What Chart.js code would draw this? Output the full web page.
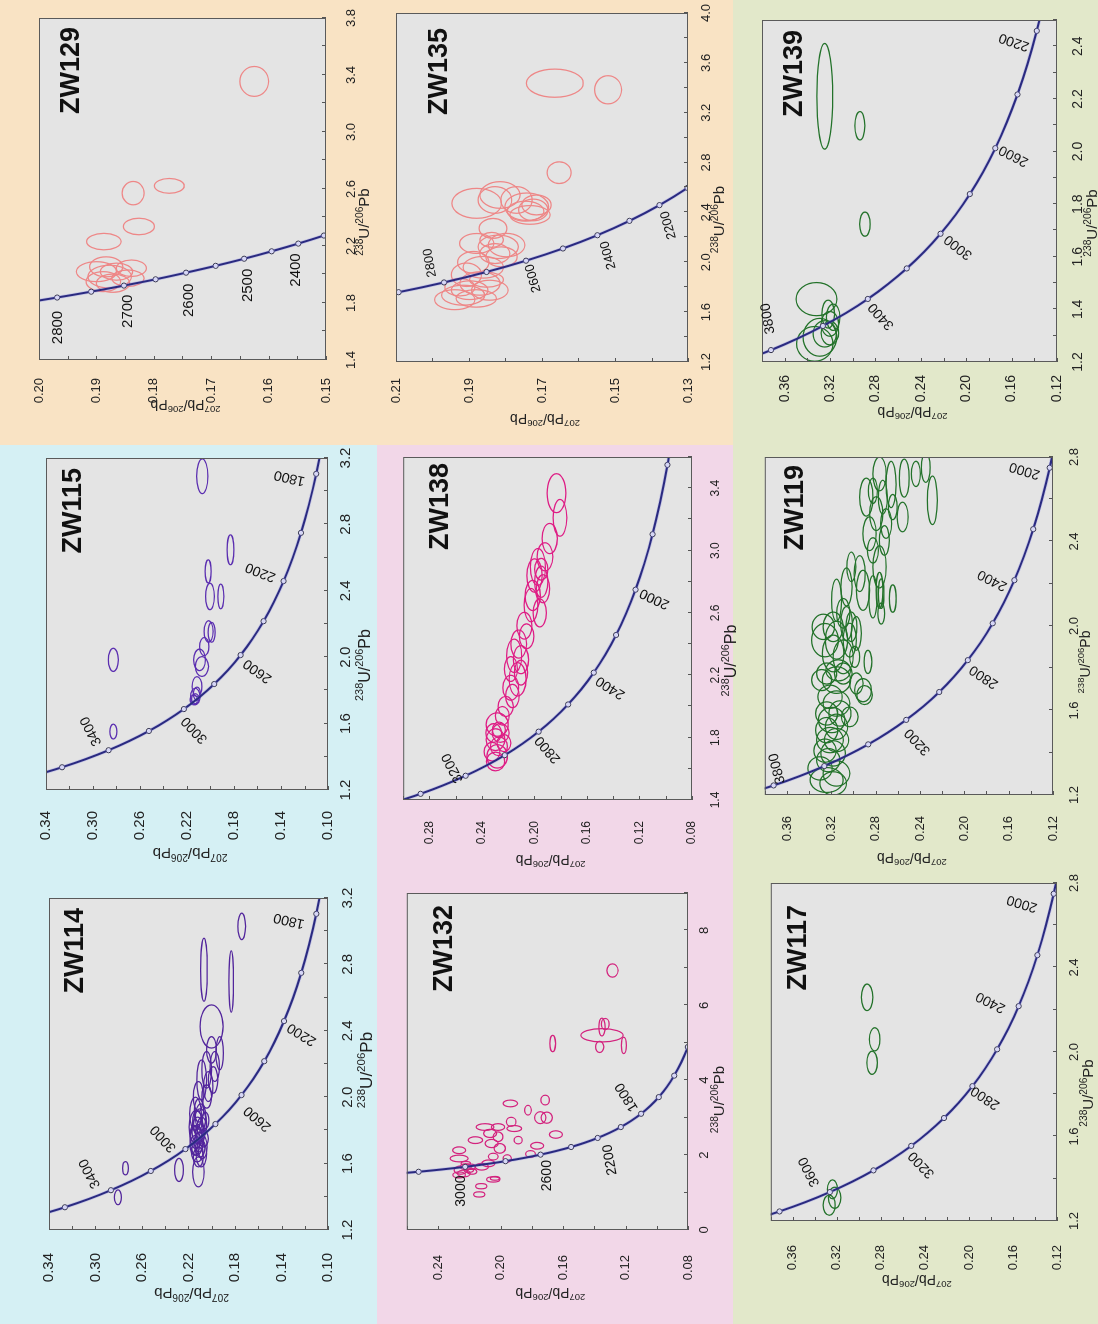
<!DOCTYPE html>
<html>
<head>
<meta charset="utf-8">
<script src="https://cdn.jsdelivr.net/npm/chart.js@4.4.1/dist/chart.umd.min.js"></script>
<style>
  html, body { margin: 0; padding: 0; background: #fff; overflow: hidden; }
  #fig { position: absolute; left: 0; top: 0; width: 1324px; height: 1098px;
         transform-origin: 0 0; transform: translate(0, 1324px) rotate(-90deg); }
  .bg { position: absolute; }
  canvas { position: absolute; }
</style>
</head>
<body>
<div id="fig">
  <div class="bg" style="left:879px;top:0;width:445px;height:733px;background:#f9e3c4"></div>
  <div class="bg" style="left:0;top:0;width:879px;height:377px;background:#d5f0f4"></div>
  <div class="bg" style="left:0;top:377px;width:879px;height:356px;background:#f2d7e8"></div>
  <div class="bg" style="left:0;top:733px;width:1324px;height:365px;background:#e2e8ca"></div>
</div>
<script>
// concordia (Tera-Wasserburg): age in Ma, 238U/206Pb, 207Pb/206Pb
const concAge = [1100, 1200, 1300, 1400, 1500, 1600, 1700, 1800, 1900, 2000, 2100, 2200, 2300, 2350, 2400, 2450, 2500, 2550, 2600, 2650, 2700, 2750, 2800, 2850, 2900, 3000, 3100, 3200, 3300, 3400, 3500, 3600, 3700, 3800, 3900];
const concX = [5.3746, 4.8876, 4.4757, 4.1227, 3.8169, 3.5496, 3.3140, 3.1046, 2.9173, 2.7491, 2.5968, 2.4586, 2.3325, 2.2735, 2.2170, 2.1628, 2.1108, 2.0609, 2.0129, 1.9663, 1.9224, 1.8796, 1.8384, 1.7986, 1.7602, 1.6875, 1.6194, 1.5557, 1.4959, 1.4397, 1.3868, 1.3370, 1.2898, 1.2453, 1.2030];
const concY = [0.07619, 0.08012, 0.08432, 0.08881, 0.09360, 0.09871, 0.10420, 0.11003, 0.11630, 0.12300, 0.13015, 0.13782, 0.14604, 0.15036, 0.15483, 0.15947, 0.16426, 0.16922, 0.17438, 0.17969, 0.18520, 0.19091, 0.19684, 0.20294, 0.20928, 0.22265, 0.23701, 0.25242, 0.26896, 0.28673, 0.30583, 0.32633, 0.34840, 0.37207, 0.39759];

// ---- ZW114
const zw114XRange = [1.2, 3.2];
const zw114YRange = [0.10, 0.34];
const zw114XTicks = [1.2, 1.6, 2.0, 2.4, 2.8, 3.2];
const zw114YTicks = [0.10, 0.14, 0.18, 0.22, 0.26, 0.30, 0.34];
const zw114Curve = [1700, 3700, 100];
const zw114Dots = [1800, 2000, 2200, 2400, 2600, 2800, 3000, 3200, 3400, 3600];
const zw114Ages = [3400, 3000, 2600, 2200, 1800];
// spots: 238U/206Pb, 207Pb/206Pb, error x, error y
const zw114Spots = [
  [3.029, 0.1742, 0.08, 0.0033], [2.768, 0.2067, 0.19, 0.0028], [2.697, 0.1833, 0.185, 0.0020],
  [2.426, 0.2002, 0.13, 0.0099], [2.265, 0.1932, 0.10, 0.0032], [2.285, 0.2002, 0.08, 0.0042],
  [2.185, 0.1974, 0.09, 0.0040], [2.165, 0.2044, 0.11, 0.0042], [2.104, 0.1988, 0.08, 0.0040],
  [2.064, 0.2030, 0.09, 0.0040], [2.104, 0.2087, 0.12, 0.0042], [2.004, 0.2115, 0.09, 0.0042],
  [2.004, 0.2044, 0.07, 0.0042], [1.920, 0.2110, 0.07, 0.0040], [1.880, 0.2095, 0.08, 0.0045],
  [1.850, 0.2125, 0.07, 0.0040], [1.820, 0.2085, 0.06, 0.0040], [1.800, 0.2120, 0.08, 0.0050],
  [1.780, 0.2100, 0.06, 0.0040], [1.760, 0.2135, 0.07, 0.0050], [1.750, 0.2070, 0.05, 0.0040],
  [1.730, 0.2110, 0.06, 0.0040], [1.710, 0.2145, 0.06, 0.0040], [1.690, 0.2100, 0.05, 0.0040],
  [1.670, 0.2125, 0.06, 0.0050], [1.860, 0.2055, 0.05, 0.0030], [1.780, 0.2155, 0.05, 0.0030],
  [1.640, 0.2115, 0.06, 0.0042], [1.820, 0.2135, 0.10, 0.0060], [1.900, 0.2140, 0.10, 0.0050],
  [1.700, 0.2080, 0.07, 0.0040], [1.550, 0.2115, 0.09, 0.0050], [1.562, 0.2282, 0.07, 0.0038],
  [1.572, 0.2742, 0.04, 0.0024], [1.397, 0.2807, 0.045, 0.0030], [1.740, 0.2130, 0.09, 0.0055],
  [1.840, 0.2100, 0.09, 0.0055], [1.660, 0.2090, 0.08, 0.0045]
];

// ---- ZW115
const zw115XRange = [1.2, 3.2];
const zw115YRange = [0.10, 0.34];
const zw115XTicks = [1.2, 1.6, 2.0, 2.4, 2.8, 3.2];
const zw115YTicks = [0.10, 0.14, 0.18, 0.22, 0.26, 0.30, 0.34];
const zw115Curve = [1700, 3700, 100];
const zw115Dots = [1800, 2000, 2200, 2400, 2600, 2800, 3000, 3200, 3400, 3600];
const zw115Ages = [3400, 3000, 2600, 2200, 1800];
const zw115Spots = [
  [3.090, 0.2070, 0.105, 0.0048], [2.647, 0.1830, 0.09, 0.0028], [2.517, 0.2020, 0.07, 0.0025],
  [2.366, 0.1912, 0.075, 0.0025], [2.366, 0.2005, 0.08, 0.0037], [2.155, 0.2016, 0.065, 0.0038],
  [2.150, 0.1990, 0.06, 0.0030], [2.064, 0.2053, 0.055, 0.0040], [1.984, 0.2093, 0.065, 0.0050],
  [1.944, 0.2073, 0.06, 0.0056], [1.823, 0.2115, 0.06, 0.0042], [1.763, 0.2129, 0.05, 0.0040],
  [1.780, 0.2115, 0.04, 0.0030], [1.750, 0.2130, 0.03, 0.0030], [1.743, 0.2143, 0.03, 0.0030],
  [1.984, 0.2827, 0.07, 0.0042], [1.552, 0.2827, 0.045, 0.0030]
];

// ---- ZW129
const zw129XRange = [1.4, 3.8];
const zw129YRange = [0.15, 0.20];
const zw129XTicks = [1.4, 1.8, 2.2, 2.6, 3.0, 3.4, 3.8];
const zw129YTicks = [0.15, 0.16, 0.17, 0.18, 0.19, 0.20];
const zw129Curve = [2300, 2850, 50];
const zw129Dots = [2350, 2400, 2450, 2500, 2550, 2600, 2650, 2700, 2750, 2800];
const zw129Ages = [2800, 2700, 2600, 2500, 2400];
const zw129Spots = [
  [3.355, 0.1625, 0.105, 0.0025], [2.571, 0.1836, 0.082, 0.0019], [2.622, 0.1773, 0.052, 0.0026],
  [2.337, 0.1826, 0.058, 0.0027], [2.231, 0.1887, 0.058, 0.0030], [2.020, 0.1900, 0.070, 0.0035],
  [1.985, 0.1877, 0.080, 0.0038], [2.044, 0.1839, 0.058, 0.0026], [1.974, 0.1845, 0.058, 0.0028],
  [2.054, 0.1883, 0.070, 0.0029], [1.939, 0.1871, 0.064, 0.0029], [1.950, 0.1888, 0.070, 0.0030],
  [2.020, 0.1865, 0.060, 0.0028]
];

// ---- ZW132
const zw132XRange = [0, 9];
const zw132YRange = [0.08, 0.26];
const zw132XTicks = [0, 2, 4, 6, 8];
const zw132YTicks = [0.08, 0.12, 0.16, 0.20, 0.24];
const zw132Curve = [1100, 3300, 100];
const zw132Dots = [1200, 1400, 1600, 1800, 2000, 2200, 2400, 2600, 2800, 3000, 3200];
const zw132Ages = [3000, 2600, 2200, 1800];
const zw132Spots = [
  [6.93, 0.1284, 0.178, 0.0036], [5.20, 0.1351, 0.178, 0.0135], [5.42, 0.1351, 0.24, 0.0020],
  [4.89, 0.1365, 0.15, 0.0026], [4.93, 0.1211, 0.22, 0.0016], [5.50, 0.1330, 0.15, 0.0025],
  [4.98, 0.1666, 0.22, 0.0018], [3.38, 0.1937, 0.09, 0.0046], [3.20, 0.1824, 0.13, 0.0021],
  [3.47, 0.1714, 0.13, 0.0027], [3.00, 0.1745, 0.16, 0.0036], [3.00, 0.1704, 0.15, 0.0036],
  [2.89, 0.1932, 0.12, 0.0031], [2.71, 0.1912, 0.08, 0.0047], [2.40, 0.1887, 0.10, 0.0026],
  [2.55, 0.1646, 0.10, 0.0042], [2.25, 0.1766, 0.09, 0.0042], [2.03, 0.1808, 0.09, 0.0031],
  [1.91, 0.1957, 0.10, 0.0026], [2.49, 0.2016, 0.13, 0.0031], [2.18, 0.2005, 0.13, 0.0036],
  [2.31, 0.2057, 0.11, 0.0042], [2.58, 0.2067, 0.11, 0.0042], [2.75, 0.2099, 0.09, 0.0057],
  [2.75, 0.2016, 0.09, 0.0042], [2.40, 0.2161, 0.09, 0.0047], [2.13, 0.2265, 0.09, 0.0042],
  [1.91, 0.2265, 0.09, 0.0057], [1.96, 0.2047, 0.09, 0.0031], [1.78, 0.2078, 0.09, 0.0042],
  [1.69, 0.2120, 0.09, 0.0042], [1.69, 0.2192, 0.07, 0.0031], [1.56, 0.2182, 0.07, 0.0030],
  [1.60, 0.2255, 0.11, 0.0042], [1.51, 0.2234, 0.09, 0.0040], [1.47, 0.2265, 0.08, 0.0040],
  [1.69, 0.2223, 0.08, 0.0036], [1.60, 0.2203, 0.06, 0.0030], [1.35, 0.2047, 0.07, 0.0042],
  [1.38, 0.2035, 0.05, 0.0030], [1.17, 0.2124, 0.07, 0.0036], [0.95, 0.2137, 0.07, 0.0036],
  [1.78, 0.2223, 0.05, 0.0030]
];

// ---- ZW138
const zw138XRange = [1.4, 3.6];
const zw138YRange = [0.08, 0.30];
const zw138XTicks = [1.4, 1.8, 2.2, 2.6, 3.0, 3.4];
const zw138YTicks = [0.08, 0.12, 0.16, 0.20, 0.24, 0.28];
const zw138Curve = [1500, 3500, 100];
const zw138Dots = [1600, 1800, 2000, 2200, 2400, 2600, 2800, 3000, 3200, 3400];
const zw138Ages = [3200, 2800, 2400, 2000];
const zw138Spots = [
  [3.368, 0.1832, 0.125, 0.0071], [3.210, 0.1806, 0.118, 0.0052], [3.077, 0.1884, 0.097, 0.0058],
  [2.895, 0.1974, 0.118, 0.0058], [2.840, 0.2000, 0.107, 0.0058], [2.800, 0.1948, 0.100, 0.0050],
  [2.712, 0.2013, 0.097, 0.0058], [2.755, 0.1935, 0.090, 0.0050], [2.650, 0.2026, 0.107, 0.0052],
  [2.600, 0.1960, 0.090, 0.0050], [2.880, 0.1948, 0.070, 0.0050], [2.518, 0.2077, 0.086, 0.0058],
  [2.325, 0.2155, 0.107, 0.0058], [2.300, 0.2103, 0.090, 0.0058], [2.240, 0.2180, 0.080, 0.0050],
  [2.174, 0.2129, 0.107, 0.0065], [2.120, 0.2180, 0.080, 0.0060], [2.217, 0.2103, 0.080, 0.0050],
  [2.067, 0.2168, 0.075, 0.0052], [2.000, 0.2219, 0.065, 0.0058], [1.940, 0.2245, 0.060, 0.0052],
  [1.884, 0.2284, 0.075, 0.0084], [1.830, 0.2258, 0.060, 0.0065], [1.787, 0.2297, 0.070, 0.0071],
  [1.744, 0.2271, 0.060, 0.0065], [1.710, 0.2323, 0.060, 0.0060], [1.680, 0.2284, 0.075, 0.0078],
  [1.647, 0.2297, 0.060, 0.0070], [1.850, 0.2271, 0.050, 0.0050], [1.765, 0.2232, 0.055, 0.0052],
  [1.830, 0.2310, 0.060, 0.0060], [2.400, 0.2120, 0.090, 0.0060], [2.960, 0.1920, 0.090, 0.0060],
  [2.450, 0.2060, 0.080, 0.0055]
];

// ---- ZW135
const zw135XRange = [1.2, 4.0];
const zw135YRange = [0.13, 0.21];
const zw135XTicks = [1.2, 1.6, 2.0, 2.4, 2.8, 3.2, 3.6, 4.0];
const zw135YTicks = [0.13, 0.15, 0.17, 0.19, 0.21];
const zw135Curve = [2000, 3000, 100];
const zw135Dots = [2100, 2200, 2300, 2400, 2500, 2600, 2700, 2800, 2900];
const zw135Ages = [2800, 2600, 2400, 2200];
const zw135Spots = [
  [3.437, 0.1665, 0.113, 0.0078], [3.384, 0.1519, 0.113, 0.0037], [2.719, 0.1653, 0.087, 0.0033],
  [2.540, 0.1815, 0.107, 0.0055], [2.500, 0.1770, 0.107, 0.0043], [2.446, 0.1742, 0.110, 0.0060],
  [2.420, 0.1724, 0.087, 0.0040], [2.380, 0.1733, 0.075, 0.0055], [2.460, 0.1715, 0.080, 0.0040],
  [2.473, 0.1879, 0.120, 0.0068], [2.500, 0.1829, 0.107, 0.0046], [2.410, 0.1745, 0.080, 0.0050],
  [2.272, 0.1834, 0.080, 0.0038], [2.151, 0.1879, 0.080, 0.0047], [2.124, 0.1820, 0.094, 0.0055],
  [2.138, 0.1797, 0.094, 0.0050], [2.070, 0.1829, 0.080, 0.0041], [2.180, 0.1838, 0.060, 0.0032],
  [2.044, 0.1811, 0.080, 0.0043], [2.000, 0.1888, 0.087, 0.0043], [1.960, 0.1861, 0.087, 0.0055],
  [1.900, 0.1907, 0.094, 0.0041], [1.830, 0.1870, 0.094, 0.0055], [1.776, 0.1843, 0.080, 0.0050],
  [1.736, 0.1916, 0.080, 0.0059], [1.700, 0.1939, 0.080, 0.0055], [1.776, 0.1898, 0.075, 0.0050],
  [1.710, 0.1880, 0.070, 0.0055], [1.860, 0.1852, 0.060, 0.0046], [1.800, 0.1925, 0.070, 0.0041]
];

// ---- ZW117
const zw117XRange = [1.2, 2.8];
const zw117YRange = [0.12, 0.38];
const zw117XTicks = [1.2, 1.6, 2.0, 2.4, 2.8];
const zw117YTicks = [0.12, 0.16, 0.20, 0.24, 0.28, 0.32, 0.36];
const zw117Curve = [1900, 3900, 100];
const zw117Dots = [2000, 2200, 2400, 2600, 2800, 3000, 3200, 3400, 3600, 3800];
const zw117Ages = [3600, 3200, 2800, 2400, 2000];
const zw117Spots = [
  [2.259, 0.2925, 0.063, 0.0052], [2.060, 0.2856, 0.055, 0.0048], [1.949, 0.2880, 0.055, 0.0048],
  [1.350, 0.3240, 0.045, 0.0045], [1.275, 0.3270, 0.048, 0.0055], [1.310, 0.3220, 0.050, 0.0057]
];

// ---- ZW119
const zw119XRange = [1.2, 2.8];
const zw119YRange = [0.12, 0.38];
const zw119XTicks = [1.2, 1.6, 2.0, 2.4, 2.8];
const zw119YTicks = [0.12, 0.16, 0.20, 0.24, 0.28, 0.32, 0.36];
const zw119Curve = [1900, 3900, 100];
const zw119Dots = [2000, 2200, 2400, 2600, 2800, 3000, 3200, 3400, 3600, 3800];
const zw119Ages = [3800, 3200, 2800, 2400, 2000];
const zw119Spots = [
  [1.271, 0.3242, 0.059, 0.0149], [1.255, 0.3183, 0.055, 0.0120], [1.302, 0.3153, 0.060, 0.0120],
  [1.326, 0.3302, 0.055, 0.0110], [1.365, 0.3227, 0.055, 0.0105], [1.397, 0.3183, 0.060, 0.0110],
  [1.410, 0.3257, 0.055, 0.0100], [1.460, 0.3153, 0.055, 0.0110], [1.460, 0.3212, 0.060, 0.0120],
  [1.507, 0.3242, 0.060, 0.0100], [1.523, 0.3153, 0.060, 0.0100], [1.555, 0.3197, 0.060, 0.0120],
  [1.586, 0.3242, 0.055, 0.0100], [1.586, 0.3123, 0.060, 0.0100], [1.633, 0.3153, 0.060, 0.0120],
  [1.665, 0.3212, 0.055, 0.0110], [1.570, 0.3034, 0.047, 0.0075], [1.696, 0.2914, 0.055, 0.0075],
  [1.673, 0.2900, 0.045, 0.0070], [1.744, 0.3153, 0.063, 0.0127], [1.790, 0.3138, 0.050, 0.0110],
  [1.933, 0.3257, 0.079, 0.0120], [1.870, 0.3183, 0.087, 0.0097], [1.854, 0.3093, 0.080, 0.0090],
  [1.933, 0.3153, 0.090, 0.0100], [1.933, 0.3034, 0.080, 0.0060], [1.854, 0.2989, 0.050, 0.0045],
  [1.830, 0.2870, 0.055, 0.0035], [2.012, 0.3063, 0.080, 0.0052], [2.060, 0.3093, 0.070, 0.0060],
  [1.996, 0.3019, 0.070, 0.0050], [1.965, 0.2974, 0.080, 0.0045], [2.122, 0.3153, 0.100, 0.0045],
  [2.185, 0.3063, 0.090, 0.0050], [2.280, 0.3019, 0.070, 0.0040], [2.169, 0.2914, 0.095, 0.0060],
  [2.248, 0.2944, 0.085, 0.0050], [2.138, 0.2825, 0.100, 0.0037], [2.169, 0.2765, 0.085, 0.0030],
  [2.153, 0.2750, 0.070, 0.0025], [2.059, 0.2750, 0.050, 0.0030], [2.130, 0.2646, 0.065, 0.0030],
  [2.280, 0.2765, 0.100, 0.0060], [2.358, 0.2825, 0.060, 0.0050], [2.437, 0.2855, 0.080, 0.0060],
  [2.405, 0.2721, 0.070, 0.0045], [2.485, 0.2706, 0.070, 0.0050], [2.532, 0.2795, 0.080, 0.0060],
  [2.563, 0.2646, 0.060, 0.0040], [2.670, 0.2661, 0.110, 0.0045], [2.720, 0.2765, 0.080, 0.0060],
  [2.700, 0.2542, 0.090, 0.0045], [2.720, 0.2437, 0.060, 0.0040], [2.595, 0.2288, 0.115, 0.0045],
  [2.750, 0.2348, 0.070, 0.0040], [2.516, 0.2557, 0.070, 0.0050], [2.610, 0.2884, 0.090, 0.0060],
  [2.640, 0.2825, 0.060, 0.0040], [2.610, 0.2735, 0.080, 0.0040], [1.996, 0.3272, 0.060, 0.0100],
  [1.996, 0.3183, 0.070, 0.0090], [1.744, 0.3287, 0.050, 0.0090], [1.775, 0.3242, 0.050, 0.0090],
  [1.775, 0.3093, 0.050, 0.0080], [1.728, 0.2974, 0.050, 0.0060]
];

// ---- ZW139
const zw139XRange = [1.2, 2.5];
const zw139YRange = [0.12, 0.38];
const zw139XTicks = [1.2, 1.4, 1.6, 1.8, 2.0, 2.2, 2.4];
const zw139YTicks = [0.12, 0.16, 0.20, 0.24, 0.28, 0.32, 0.36];
const zw139Curve = [2100, 3900, 100];
const zw139Dots = [2200, 2400, 2600, 2800, 3000, 3200, 3400, 3600, 3800];
const zw139Ages = [3800, 3400, 3000, 2600, 2200];
const zw139Spots = [
  [2.210, 0.3247, 0.201, 0.0069], [2.098, 0.2937, 0.054, 0.0044], [1.724, 0.2893, 0.046, 0.0047],
  [1.439, 0.3320, 0.063, 0.0180], [1.382, 0.3217, 0.053, 0.0056], [1.345, 0.3202, 0.047, 0.0077],
  [1.294, 0.3290, 0.072, 0.0147], [1.269, 0.3335, 0.066, 0.0160], [1.307, 0.3247, 0.050, 0.0103],
  [1.310, 0.3202, 0.045, 0.0077], [1.370, 0.3173, 0.050, 0.0060]
];

const FONT = '"Liberation Sans", Arial, Helvetica, sans-serif';
const ML = 80, MR = 20, MT = 20, MB = 50;
const fig = document.getElementById('fig');

// layout of each panel in the unrotated (landscape) figure
const panels = [
  { name: 'ZW114', area: [94, 45, 426, 328], color: '#52259c', xr: zw114XRange, yr: zw114YRange,
    xt: zw114XTicks, yt: zw114YTicks, curve: zw114Curve, dots: zw114Dots, ages: zw114Ages, spots: zw114Spots,
    agePos: [[16.7, -21, -27], [10.4, -22, -43], [-23.6, 16, -49], [-13.3, 17.7, -58], [-6.7, -27.3, -77]],
    tick: 15, yPad: 15, yTo: 63, yTs: 15, xLab: 21, xTo: 38, xDx: -6, xTs: 17, tag: [10, 15], ageFs: 14 },
  { name: 'ZW115', area: [534, 44, 866, 328], color: '#5a2db0', xr: zw115XRange, yr: zw115YRange,
    xt: zw115XTicks, yt: zw115YTicks, curve: zw115Curve, dots: zw115Dots, ages: zw115Ages, spots: zw115Spots,
    agePos: [[19, -17.4, -27], [-21, 10.6, -43], [-16, 17, -54], [9, -23, -68], [-4, -26.7, -77]],
    tick: 15, yPad: 13, yTo: 63, yTs: 15, xLab: 19, xTo: 36, xDx: -41, xTs: 16, tag: [10, 16], ageFs: 14 },
  { name: 'ZW129', area: [964, 39, 1306, 326], color: '#ee8787', xr: zw129XRange, yr: zw129YRange,
    xt: zw129XTicks, yt: zw129YTicks, curve: zw129Curve, dots: zw129Dots, ages: zw129Ages, spots: zw129Spots,
    agePos: [[-30, 1, 0], [-25.7, 4.3, 0], [-27.7, 2.6, 0], [-26.7, 3.6, 0], [-26.4, -2.3, 0]],
    tick: 13, yPad: 10, yTo: 45, yTs: 14, xLab: 25, xTo: 38, xDx: -33, xTs: 15, tag: [9, 21], ageFs: 15 },
  { name: 'ZW132', area: [94, 402, 431, 688], color: '#d3237e', xr: zw132XRange, yr: zw132YRange,
    xt: zw132XTicks, yt: zw132YTicks, curve: zw132Curve, dots: zw132Dots, ages: zw132Ages, spots: zw132Spots,
    agePos: [[-24.3, -4.3, 0], [-21, 6.6, 0], [-22, 12.4, -10], [16.7, -14.3, -32]],
    tick: 13, yPad: 17, yTo: 63, yTs: 14, xLab: 16, xTo: 31, xDx: -38, xTs: 15, tag: [12, 26], ageFs: 14, xDec: 0 },
  { name: 'ZW138', area: [524, 403, 867, 692], color: '#de1d85', xr: zw138XRange, yr: zw138YRange,
    xt: zw138XTicks, yt: zw138YTicks, curve: zw138Curve, dots: zw138Dots, ages: zw138Ages, spots: zw138Spots,
    agePos: [[7.7, -13, -27], [-18, 9.3, -41], [-15, 16.7, -57], [-9, 19, -65]],
    tick: 12, yPad: 13, yTo: 60, yTs: 14, xLab: 23, xTo: 38, xDx: -32, xTs: 16, tag: [6, 25], ageFs: 14 },
  { name: 'ZW135', area: [962, 396, 1311, 688], color: '#ee8787', xr: zw135XRange, yr: zw135YRange,
    xt: zw135XTicks, yt: zw135YTicks, curve: zw135Curve, dots: zw135Dots, ages: zw135Ages, spots: zw135Spots,
    agePos: [[19.6, -14, -10], [-17.6, 7.3, -16], [-20, 11, -16], [-20, 9, -16]],
    tick: 13, yPad: 8, yTo: 57, yTs: 14, xLab: 18, xTo: 31, xDx: -32, xTs: 15, tag: [15, 32], ageFs: 13 },
  { name: 'ZW117', area: [103, 767, 441, 1057], color: '#23722a', xr: zw117XRange, yr: zw117YRange,
    xt: zw117XTicks, yt: zw117YTicks, curve: zw117Curve, dots: zw117Dots, ages: zw117Ages, spots: zw117Spots,
    agePos: [[20.3, -20.6, -27], [-19, 10.3, -43], [-11.6, 13, -56], [4, -28, -63], [-9.7, -31.6, -73]],
    tick: 13, yPad: 16, yTo: 59, yTs: 14, xLab: 17, xTo: 31, xDx: -41, xTs: 15, tag: [22, 16], ageFs: 14 },
  { name: 'ZW119', area: [529, 764, 867, 1053], color: '#23722a', xr: zw119XRange, yr: zw119YRange,
    xt: zw119XTicks, yt: zw119YTicks, curve: zw119Curve, dots: zw119Dots, ages: zw119Ages, spots: zw119Spots,
    agePos: [[17, 3.7, -15], [-22, 11.4, -43], [-16.7, 16, -56], [0, -22, -63], [-2.7, -25, -73]],
    tick: 13, yPad: 13, yTo: 63, yTs: 14, xLab: 21, xTo: 32, xDx: -36, xTs: 14, tag: [8, 19], ageFs: 14 },
  { name: 'ZW139', area: [962, 762, 1304, 1057], color: '#23722a', xr: zw139XRange, yr: zw139YRange,
    xt: zw139XTicks, yt: zw139YTicks, curve: zw139Curve, dots: zw139Dots, ages: zw139Ages, spots: zw139Spots,
    agePos: [[31.4, -3, -10], [-17.4, 13.4, -42], [-13.4, 17.7, -52], [-7.6, 18.4, -63], [-11, -22.7, -71]],
    tick: 14, yPad: 5, yTo: 50, yTs: 14, xLab: 22, xTo: 35, xDx: -32, xTs: 15, tag: [10, 21], ageFs: 14 }
];

function concPoint(age) {
  const i = concAge.indexOf(age);
  return { x: concX[i], y: concY[i], age: age };
}

function curvePoints(c) {
  return concAge.filter(a => a >= c[0] && a <= c[1] && a % c[2] === 0)
    .map(concPoint).sort((a, b) => a.x - b.x);
}

// text with superscript isotope masses
function supText(ctx, parts, size, x, y, rot) {
  const small = size * 0.68;
  let w = 0;
  parts.forEach(p => { ctx.font = (p[1] ? small : size) + 'px ' + FONT; w += ctx.measureText(p[0]).width; });
  ctx.save();
  ctx.translate(x, y);
  ctx.rotate(rot);
  ctx.textAlign = 'left';
  ctx.textBaseline = 'alphabetic';
  ctx.fillStyle = '#222';
  let cx = -w / 2;
  parts.forEach(p => {
    ctx.font = (p[1] ? small : size) + 'px ' + FONT;
    ctx.fillText(p[0], cx, p[1] ? -size * 0.05 : size * 0.36);
    cx += ctx.measureText(p[0]).width;
  });
  ctx.restore();
}

function marks(ticks, range) {
  const half = (ticks[1] - ticks[0]) / 2;
  const out = [];
  for (let v = ticks[0]; v <= range[1] + 1e-9; v += half) out.push(v);
  for (let v = ticks[0] - half; v >= range[0] - 1e-9; v -= half) out.push(v);
  return out;
}

function decor(p) {
  return {
    id: 'decor' + p.name,
    beforeDraw(chart) {
      const a = chart.chartArea, ctx = chart.ctx;
      ctx.save();
      ctx.fillStyle = '#e4e4e4';
      ctx.fillRect(a.left, a.top, a.right - a.left, a.bottom - a.top);
      ctx.restore();
    },
    beforeDatasetsDraw(chart) {
      const a = chart.chartArea, ctx = chart.ctx;
      const xs = chart.scales.x, ys = chart.scales.y;
      ctx.save();
      ctx.beginPath();
      ctx.rect(a.left, a.top, a.right - a.left, a.bottom - a.top);
      ctx.clip();
      ctx.strokeStyle = p.color;
      ctx.lineWidth = 1.25;
      chart.data.datasets[0].data.forEach(s => {
        const cx = xs.getPixelForValue(s.x), cy = ys.getPixelForValue(s.y);
        const rx = Math.abs(xs.getPixelForValue(s.x + s.sx) - cx);
        const ry = Math.abs(ys.getPixelForValue(s.y + s.sy) - cy);
        ctx.beginPath();
        ctx.ellipse(cx, cy, rx, ry, 0, 0, Math.PI * 2);
        ctx.stroke();
      });
      ctx.restore();
    },
    afterDatasetsDraw(chart) {
      const a = chart.chartArea, ctx = chart.ctx;
      const xs = chart.scales.x, ys = chart.scales.y;
      ctx.save();
      // inward tick marks
      ctx.strokeStyle = '#555';
      ctx.lineWidth = 1;
      ctx.beginPath();
      marks(p.xt, p.xr).forEach(v => {
        const px = Math.round(xs.getPixelForValue(v)) + 0.5;
        ctx.moveTo(px, a.bottom); ctx.lineTo(px, a.bottom - 4);
      });
      marks(p.yt, p.yr).forEach(v => {
        const py = Math.round(ys.getPixelForValue(v)) + 0.5;
        ctx.moveTo(a.left, py); ctx.lineTo(a.left + 4, py);
      });
      ctx.stroke();
      // frame
      ctx.strokeStyle = '#5a5a5a';
      ctx.strokeRect(a.left + 0.5, a.top + 0.5, a.right - a.left - 1, a.bottom - a.top - 1);
      // concordia age labels
      ctx.fillStyle = '#111';
      ctx.font = p.ageFs + 'px ' + FONT;
      ctx.textAlign = 'center';
      ctx.textBaseline = 'middle';
      p.ages.forEach((age, i) => {
        const pt = concPoint(age), o = p.agePos[i];
        ctx.save();
        ctx.translate(xs.getPixelForValue(pt.x) + o[0], ys.getPixelForValue(pt.y) + o[1]);
        ctx.rotate(o[2] * Math.PI / 180);
        ctx.fillText(String(age), 0, 0);
        ctx.restore();
      });
      // sample name
      ctx.font = 'bold 27px ' + FONT;
      ctx.textAlign = 'right';
      ctx.textBaseline = 'alphabetic';
      ctx.fillStyle = '#111';
      ctx.fillText(p.name, a.right - p.tag[0], a.top + p.tag[1] + 27 * 0.72);
      ctx.restore();
      // axis titles
      supText(ctx, [['238', 1], ['U/', 0], ['206', 1], ['Pb', 0]], p.xTs,
        (a.left + a.right) / 2 + p.xDx, a.bottom + p.xTo, 0);
      supText(ctx, [['207', 1], ['Pb/', 0], ['206', 1], ['Pb', 0]], p.yTs,
        a.left - p.yTo, (a.top + a.bottom) / 2 + 3, -Math.PI / 2);
    }
  };
}

panels.forEach(p => {
  const w = p.area[2] - p.area[0], h = p.area[3] - p.area[1];
  const cv = document.createElement('canvas');
  cv.width = w + ML + MR;
  cv.height = h + MT + MB;
  cv.style.left = (p.area[0] - ML) + 'px';
  cv.style.top = (p.area[1] - MT) + 'px';
  fig.appendChild(cv);

  const pts = curvePoints(p.curve);
  const dotSet = new Set(p.dots);
  const xDec = p.xDec === undefined ? 1 : p.xDec;

  new Chart(cv, {
    type: 'scatter',
    data: {
      datasets: [
        { data: p.spots.map(s => ({ x: s[0], y: s[1], sx: s[2], sy: s[3] })), pointRadius: 0, showLine: false },
        { data: pts, showLine: true, borderColor: 'rgba(120,120,230,0.3)', borderWidth: 3.4,
          pointRadius: 0, tension: 0.4, capBezierPoints: false },
        { data: pts, showLine: true, borderColor: '#0a0a55', borderWidth: 2, tension: 0.4, capBezierPoints: false,
          pointRadius: c => dotSet.has(c.raw.age) ? 2.6 : 0,
          pointBackgroundColor: '#ffffff', pointBorderColor: '#33334d', pointBorderWidth: 1 }
      ]
    },
    options: {
      responsive: false,
      animation: false,
      devicePixelRatio: 1,
      events: [],
      layout: { padding: { left: 0, top: MT, right: MR, bottom: 0 } },
      plugins: { legend: { display: false }, tooltip: { enabled: false } },
      scales: {
        x: {
          type: 'linear', position: 'bottom', min: p.xr[0], max: p.xr[1],
          afterBuildTicks: s => { s.ticks = p.xt.map(v => ({ value: v })); },
          afterFit: s => { s.height = MB; },
          grid: { display: false }, border: { display: false },
          ticks: { autoSkip: false, maxRotation: 0, minRotation: 0, color: '#222',
            padding: Math.max(0, p.xLab - 1.2 * p.tick),
            font: { family: FONT, size: p.tick }, callback: v => Number(v).toFixed(xDec) }
        },
        y: {
          type: 'linear', position: 'left', min: p.yr[0], max: p.yr[1],
          afterBuildTicks: s => { s.ticks = p.yt.map(v => ({ value: v })); },
          afterFit: s => { s.width = ML; },
          grid: { display: false }, border: { display: false },
          ticks: { autoSkip: false, color: '#222', padding: p.yPad,
            font: { family: FONT, size: p.tick }, callback: v => Number(v).toFixed(2) }
        }
      }
    },
    plugins: [decor(p)]
  });
});
</script>
</body>
</html>
